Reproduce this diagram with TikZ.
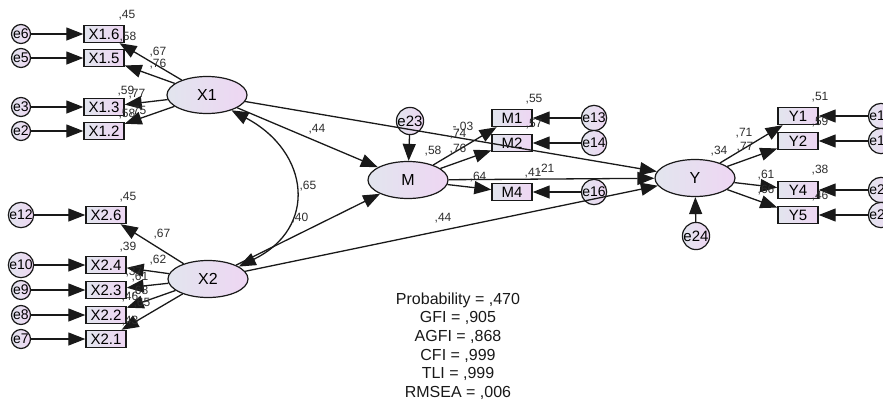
\documentclass[tikz,border=0pt]{standalone}
\usepackage{fontspec}
\setmainfont{Liberation Sans}
\usetikzlibrary{arrows.meta,shapes.geometric}
\definecolor{fillL}{RGB}{226,229,238}
\definecolor{fillR}{RGB}{238,214,243}
\definecolor{ink}{RGB}{25,25,25}
\definecolor{lblink}{RGB}{45,45,45}

\tikzset{
  lat/.style={ellipse, draw=ink, line width=1.2pt, minimum width=80pt, minimum height=37pt,
    inner sep=0pt, left color=fillL, right color=fillR, font=\fontsize{16}{16}\selectfont},
  obs/.style={rectangle, draw=ink, line width=1.4pt, minimum width=40pt, minimum height=17pt,
    inner sep=0pt, left color=fillL, right color=fillR, font=\fontsize{15}{15}\selectfont},
  err/.style={circle, draw=ink, line width=1.2pt, minimum size=19pt, inner sep=0pt,
    left color=fillL, right color=fillR, font=\fontsize{14}{14}\selectfont},
  bigerr/.style={err, minimum size=27pt, font=\fontsize{15}{15}\selectfont},
  tip/.tip={Triangle[length=17pt,width=13pt]},
  arr/.style={draw=ink, line width=1.3pt, -tip},
  darr/.style={draw=ink, line width=1.3pt, tip-tip},
  lbl/.style={font=\fontsize{12}{12}\selectfont, text=lblink, inner sep=0pt},
}

\begin{document}
\begin{tikzpicture}[x=1pt,y=-1pt]
\clip (0,0) rectangle (883,402);
\useasboundingbox (0,0) rectangle (883,402);

% ---- indicators of X1
\node[obs] (X16) at (104,34) {X1.6};
\node[obs] (X15) at (104,58) {X1.5};
\node[obs] (X13) at (104,107) {X1.3};
\node[obs] (X12) at (104,131) {X1.2};
\node[err] (e6) at (21,34) {e6};
\node[err] (e5) at (21,58) {e5};
\node[err] (e3) at (21,107) {e3};
\node[err] (e2) at (21,131) {e2};

% ---- indicators of X2
\node[obs] (X26) at (106,215) {X2.6};
\node[obs] (X24) at (106,265) {X2.4};
\node[obs] (X23) at (106,290) {X2.3};
\node[obs] (X22) at (106,315) {X2.2};
\node[obs] (X21) at (106,339) {X2.1};
\node[err] (e12) at (21,215) {e12};
\node[err] (e10) at (21,265) {e10};
\node[err] (e9) at (21,290) {e9};
\node[err] (e8) at (21,315) {e8};
\node[err] (e7) at (21,339) {e7};

% ---- latent variables
\node[lat] (X1) at (207,95) {X1};
\node[lat] (X2) at (208,279) {X2};
\node[lat] (M) at (408,180) {M};
\node[lat] (Y) at (695,178) {Y};
\node[bigerr] (e23) at (410,121) {e23};
\node[bigerr] (e24) at (696,236) {e24};

% ---- indicators of M
\node[obs] (M1) at (512,118) {M1};
\node[obs] (M2) at (512,143) {M2};
\node[obs] (M4) at (512,192) {M4};
\node[err] (e13) at (594,118) {e13};
\node[err] (e14) at (594,143) {e14};
\node[err] (e16) at (594,192) {e16};

% ---- indicators of Y
\node[obs] (Y1) at (798,116) {Y1};
\node[obs] (Y2) at (798,141) {Y2};
\node[obs] (Y4) at (798,190) {Y4};
\node[obs] (Y5) at (798,215) {Y5};
\node[err] (e17) at (881,116) {e17};
\node[err] (e18) at (881,141) {e18};
\node[err] (e20) at (881,190) {e20};
\node[err] (e21) at (881,215) {e21};

% ---- error terms into indicators
\foreach \e/\v in {e6/X16,e5/X15,e3/X13,e2/X12,e12/X26,e10/X24,e9/X23,e8/X22,e7/X21,
                   e13/M1,e14/M2,e16/M4,e17/Y1,e18/Y2,e20/Y4,e21/Y5,e23/M,e24/Y}
  \draw[arr] (\e) -- (\v);

% ---- loadings
\foreach \v in {X16,X15,X13,X12} \draw[arr] (X1) -- (\v);
\foreach \v in {X26,X24,X23,X22,X21} \draw[arr] (X2) -- (\v);
\foreach \v in {M1,M2,M4} \draw[arr] (M) -- (\v);
\foreach \v in {Y1,Y2,Y4,Y5} \draw[arr] (Y) -- (\v);

% ---- structural paths
\draw[arr] (X1) -- (M);
\draw[arr] (X2) -- (M);
\draw[arr] (X1) -- (Y);
\draw[arr] (M) -- (Y);
\draw[arr] (X2) -- (Y);
\draw[darr] (X1.-32) .. controls (310,152) and (318,228) .. (X2.22);

% ---- coefficients, X1 block
\node[lbl] (l1) at (127,15) {,45};
\node[lbl] (l2) at (128,37) {,58};
\node[lbl] (l3) at (158,52) {,67};
\node[lbl] (l4) at (158,64) {,76};
\node[lbl] (l5) at (126,91) {,59};
\node[lbl] (l6) at (137,94) {,77};
\node[lbl] (l7) at (127,114) {,58};
\node[lbl] (l8) at (138,111) {,75};

% ---- coefficients, X2 block
\node[lbl] (l9) at (128,197) {,45};
\node[lbl] (l10) at (162,234) {,67};
\node[lbl] (l11) at (128,247) {,39};
\node[lbl] (l12) at (158,260) {,62};
\node[lbl] (l13) at (134,272) {,37};
\node[lbl] (l14) at (140,277) {,61};
\node[lbl] (l15) at (140,291) {,68};
\node[lbl] (l16) at (130,297) {,46};
\node[lbl] (l17) at (142,303) {,65};
\node[lbl] (l18) at (130,321) {,43};

% ---- coefficients, structural part and M block
\node[lbl] (l19) at (317,129) {,44};
\node[lbl] (l20) at (308,186) {,65};
\node[lbl] (l21) at (300,218) {,40};
\node[lbl] (l22) at (433,151) {,58};
\node[lbl] (l23) at (463,127) {-,03};
\node[lbl] (l24) at (458,134) {,74};
\node[lbl] (l25) at (458,149) {,76};
\node[lbl] (l26) at (478,177) {,64};
\node[lbl] (l27) at (534,99) {,55};
\node[lbl] (l28) at (534,124) {,57};
\node[lbl] (l29) at (533,173) {,41};
\node[lbl] (l30) at (546,169) {,21};
\node[lbl] (l31) at (443,218) {,44};

% ---- coefficients, Y block
\node[lbl] (l32) at (719,151) {,34};
\node[lbl] (l33) at (744,133) {,71};
\node[lbl] (l34) at (745,147) {,77};
\node[lbl] (l35) at (766,175) {,61};
\node[lbl] (l36) at (766,190) {,66};
\node[lbl] (l37) at (820,97) {,51};
\node[lbl] (l38) at (820,122) {,59};
\node[lbl] (l39) at (820,170) {,38};
\node[lbl] (l40) at (820,196) {,46};

% ---- fit indices
\node[align=center, font=\fontsize{16}{18.6}\selectfont, text=ink] (fit) at (458,346)
  {Probability = ,470\\GFI = ,905\\AGFI = ,868\\CFI = ,999\\TLI = ,999\\RMSEA = ,006};
\end{tikzpicture}
\end{document}
